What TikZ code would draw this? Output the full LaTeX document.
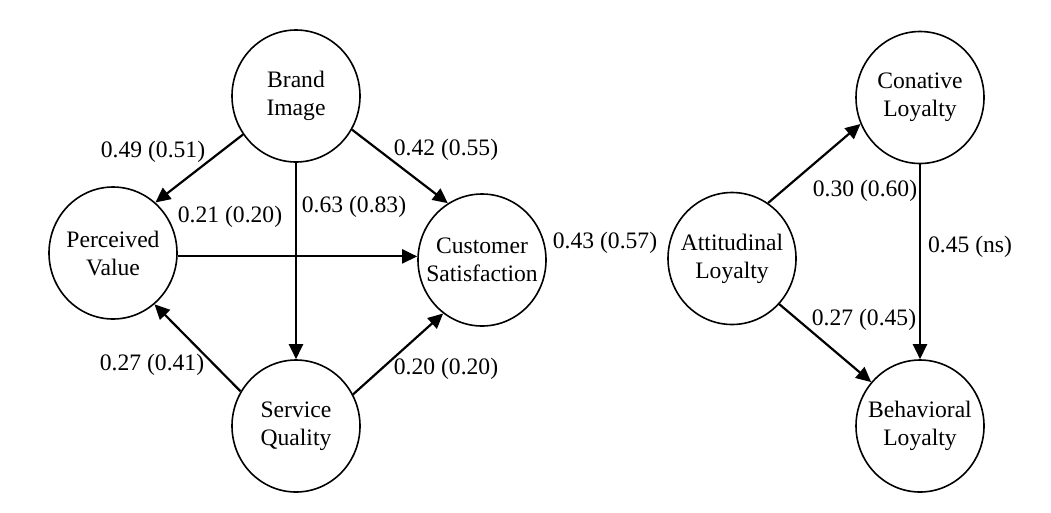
\documentclass[tikz,border=0pt]{standalone}
\usepackage{fontspec}
\setmainfont{Liberation Serif}
\usetikzlibrary{shapes.geometric,arrows.meta}
\begin{document}
\begin{tikzpicture}[x=1pt,y=-1pt,
  every node/.style={font=\fontsize{23.6}{28}\selectfont},
  cnode/.style={draw,ellipse,line width=1.6pt,minimum width=128pt,minimum height=132pt,inner sep=0pt},
  lab/.style={inner sep=0pt,anchor=center},
  arr/.style={line width=2.2pt,-{Triangle[length=15pt,width=14pt]}}]
\useasboundingbox (0,0) rectangle (1051,512);
\node[cnode,label={[align=center]center:Brand\\Image}] (bi) at (296,96) {};
\node[cnode,label={[align=center]center:Perceived\\Value}] (pv) at (113,253) {};
\node[cnode,label={[align=center]center:Customer\\Satisfaction}] (cs) at (482,260) {};
\node[cnode,label={[align=center]center:Service\\Quality}] (sq) at (296,426) {};
\node[cnode,label={[align=center]center:Attitudinal\\Loyalty}] (al) at (732,258.5) {};
\node[cnode,label={[align=center]center:Conative\\Loyalty}] (cl) at (920,97.5) {};
\node[cnode,label={[align=center]center:Behavioral\\Loyalty}] (bl) at (920,426) {};

\draw[arr] (bi.216.7) -- (pv.50.6);
\draw[arr] (bi.-31.3) -- (cs.121.6);
\draw[arr] (bi.south) -- (sq.north);
\draw[arr] (pv.-3.5) -- (pv.-3.5 -| cs.west);
\draw[arr] (sq.148.4) -- (pv.-51.7);
\draw[arr] (sq.29) -- (cs.234.2);
\draw[arr] (al.57.8) -- (cl.204.2);
\draw[arr] (cl.south) -- (bl.north);
\draw[arr] (al.-44.7) -- (bl.138.7);

\node[lab] (l1) at (153,152) {0.49 (0.51)};
\node[lab] (l2) at (446,150) {0.42 (0.55)};
\node[lab] (l3) at (230,217) {0.21 (0.20)};
\node[lab] (l4) at (354,207) {0.63 (0.83)};
\node[lab] (l5) at (605,243) {0.43 (0.57)};
\node[lab] (l6) at (152,365) {0.27 (0.41)};
\node[lab] (l7) at (446,369) {0.20 (0.20)};
\node[lab] (l8) at (865,191) {0.30 (0.60)};
\node[lab] (l9) at (970,247) {0.45 (ns)};
\node[lab] (l10) at (864,320) {0.27 (0.45)};
\end{tikzpicture}
\end{document}
